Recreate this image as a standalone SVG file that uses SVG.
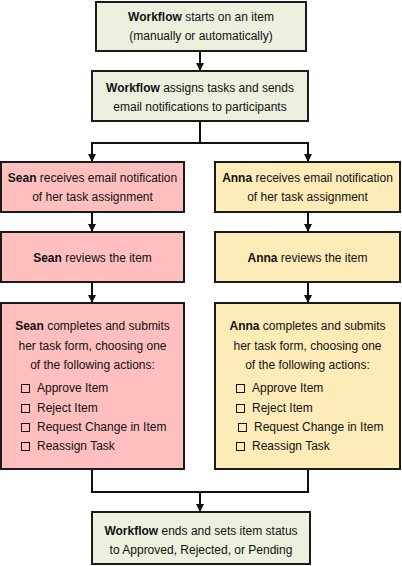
<svg xmlns="http://www.w3.org/2000/svg" width="402" height="566" viewBox="0 0 402 566">
<defs>
<marker id="ah" markerWidth="8" markerHeight="8" refX="7" refY="4" orient="auto" markerUnits="userSpaceOnUse">
<path d="M0,0 L8,4 L0,8 Z" fill="#111"/>
</marker>
<style>
.box{stroke:#1a1a1a;stroke-width:2}
.g{fill:#ebf1de}
.p{fill:#ffbfbf}
.y{fill:#fdebb8}
text{font-family:"Liberation Sans",Arial,sans-serif;font-size:12px;fill:#111}
.c{text-anchor:middle}
.b{font-weight:bold}
.cb{fill:none;stroke:#111;stroke-width:1}
.ln{fill:none;stroke:#111;stroke-width:2}
</style>
</defs>
<rect width="402" height="566" fill="#fff"/>
<g id="connectors">
<line class="ln" x1="200" y1="51" x2="200" y2="70" marker-end="url(#ah)"/>
<polyline class="ln" points="200,121 200,143 92,143 92,161" marker-end="url(#ah)"/>
<polyline class="ln" points="200,143 308,143 308,161" marker-end="url(#ah)"/>
<line class="ln" x1="92" y1="212" x2="92" y2="231" marker-end="url(#ah)"/>
<line class="ln" x1="308" y1="212" x2="308" y2="231" marker-end="url(#ah)"/>
<line class="ln" x1="92" y1="282" x2="92" y2="302" marker-end="url(#ah)"/>
<line class="ln" x1="308" y1="282" x2="308" y2="302" marker-end="url(#ah)"/>
<polyline class="ln" points="92,469 92,492 308,492 308,469"/>
<line class="ln" x1="200" y1="492" x2="200" y2="511" marker-end="url(#ah)"/>
</g>
<g id="start">
<rect class="box g" x="96" y="2" width="210" height="49"/>
<text class="c" x="201" y="21"><tspan class="b">Workflow</tspan> starts on an item</text>
<text class="c" x="201" y="40">(manually or automatically)</text>
</g>
<g id="assign">
<rect class="box g" x="92" y="71" width="216" height="50"/>
<text class="c" x="200" y="92"><tspan class="b">Workflow</tspan> assigns tasks and sends</text>
<text class="c" x="200" y="111">email notifications to participants</text>
</g>
<g id="sean-notify">
<rect class="box p" x="1" y="162" width="183" height="50"/>
<text class="c" x="92.5" y="182"><tspan class="b">Sean</tspan> receives email notification</text>
<text class="c" x="92.5" y="201">of her task assignment</text>
</g>
<g id="anna-notify">
<rect class="box y" x="215" y="162" width="185" height="50"/>
<text class="c" x="307.5" y="182"><tspan class="b">Anna</tspan> receives email notification</text>
<text class="c" x="307.5" y="201">of her task assignment</text>
</g>
<g id="sean-review">
<rect class="box p" x="1" y="232" width="183" height="50"/>
<text class="c" x="92.5" y="262"><tspan class="b">Sean</tspan> reviews the item</text>
</g>
<g id="anna-review">
<rect class="box y" x="215" y="232" width="185" height="50"/>
<text class="c" x="307.5" y="262"><tspan class="b">Anna</tspan> reviews the item</text>
</g>
<g id="sean-complete">
<rect class="box p" x="1" y="303" width="183" height="166"/>
<text class="c" x="92.5" y="330"><tspan class="b">Sean</tspan> completes and submits</text>
<text class="c" x="92.5" y="350">her task form, choosing one</text>
<text class="c" x="92.5" y="369">of the following actions:</text>
<rect class="cb" x="21.5" y="384.5" width="8" height="8"/>
<text x="37" y="392">Approve Item</text>
<rect class="cb" x="21.5" y="404.5" width="8" height="8"/>
<text x="37" y="412">Reject Item</text>
<rect class="cb" x="21.5" y="423.5" width="8" height="8"/>
<text x="37" y="431">Request Change in Item</text>
<rect class="cb" x="21.5" y="442.5" width="8" height="8"/>
<text x="37" y="450">Reassign Task</text>
</g>
<g id="anna-complete">
<rect class="box y" x="215" y="303" width="185" height="166"/>
<text class="c" x="307.5" y="330"><tspan class="b">Anna</tspan> completes and submits</text>
<text class="c" x="307.5" y="350">her task form, choosing one</text>
<text class="c" x="307.5" y="369">of the following actions:</text>
<rect class="cb" x="236.5" y="384.5" width="8" height="8"/>
<text x="252" y="392">Approve Item</text>
<rect class="cb" x="236.5" y="404.5" width="8" height="8"/>
<text x="252" y="412">Reject Item</text>
<rect class="cb" x="238.5" y="423.5" width="8" height="8"/>
<text x="254" y="431">Request Change in Item</text>
<rect class="cb" x="236.5" y="442.5" width="8" height="8"/>
<text x="252" y="450">Reassign Task</text>
</g>
<g id="end">
<rect class="box g" x="92" y="512" width="218" height="52"/>
<text class="c" x="201" y="535"><tspan class="b">Workflow</tspan> ends and sets item status</text>
<text class="c" x="201" y="554">to Approved, Rejected, or Pending</text>
</g>
</svg>
